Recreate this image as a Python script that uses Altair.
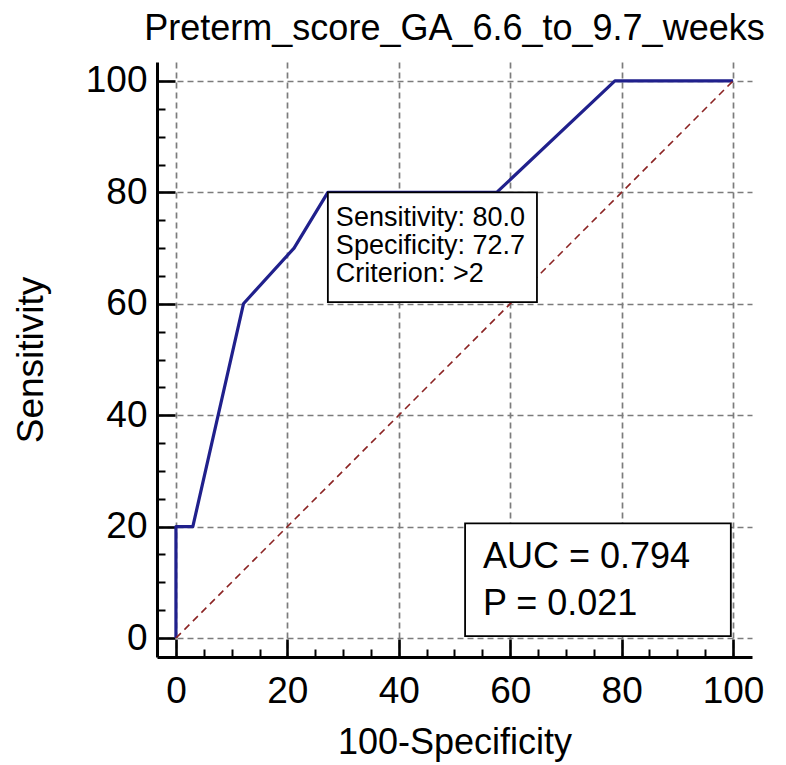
import altair as alt
import pandas as pd

# ---- data ----
fpr = [0, 0, 3.03, 12.12, 21.2, 27.27, 57.58, 78.79, 100]
tpr = [0, 20, 20, 60, 70, 80, 80, 100, 100]
diag_x = [0, 100]
diag_y = [0, 100]
major_ticks = [0, 20, 40, 60, 80, 100]
all_ticks = [0, 5, 10, 15, 20, 25, 30, 35, 40, 45, 50, 55, 60, 65, 70, 75, 80, 85, 90, 95, 100]
cut_fpr, cut_sens = 27.27, 80.0
cut_lines = ["Sensitivity: 80.0", "Specificity: 72.7", "Criterion: >2"]
auc_lines = ["AUC = 0.794", "P = 0.021"]
chart_title = "Preterm_score_GA_6.6_to_9.7_weeks"

# ---- annotation geometry (data units) ----
box1 = {"x": cut_fpr, "x2": 64.8, "y": cut_sens, "y2": 60.3}
box2 = {"x": 51.9, "x2": 99.6, "y": 20.6, "y2": 0.36}
auc_pos = {"x": 55.1, "y": 12.6}

W = H = 595
FONT = "Liberation Sans"
dom = [-3.4, 103.4]
xs = alt.Scale(domain=dom, nice=False, zero=False)
ys = alt.Scale(domain=dom, nice=False, zero=False)

roc_df = pd.DataFrame({"fpr": fpr, "tpr": tpr})
diag_df = pd.DataFrame({"fpr": diag_x, "tpr": diag_y})
box_df = pd.DataFrame([box1, box2])
cut_df = pd.DataFrame({"x": [cut_fpr], "y": [cut_sens], "t": [cut_lines]})
auc_df = pd.DataFrame({"x": [auc_pos["x"]], "y": [auc_pos["y"]], "t": [auc_lines]})

GRID = dict(grid=True, gridColor="#7c7c7c", gridDash=[6, 4], gridWidth=1.7)

main_x_axis = alt.Axis(
    values=major_ticks, title="100-Specificity", ticks=False, tickSize=0,
    labelFontSize=37, labelFont=FONT, labelColor="black", labelPadding=16,
    titleFontSize=36, titleFont=FONT, titleFontWeight="normal", titleColor="black",
    titleY=96, titleBaseline="alphabetic",
    domainColor="black", domainWidth=3, **GRID,
)
main_y_axis = alt.Axis(
    values=major_ticks, title="Sensitivity", ticks=False, tickSize=0,
    labelFontSize=37, labelFont=FONT, labelColor="black", labelPadding=10,
    titleFontSize=37, titleFont=FONT, titleFontWeight="normal", titleColor="black",
    titleX=-115, titleBaseline="alphabetic",
    domainColor="black", domainWidth=3, **GRID,
)
tick_size = {"condition": {"test": "datum.value % 20 === 0", "value": 18}, "value": 8}
tick_width = {"condition": {"test": "datum.value % 20 === 0", "value": 2.6}, "value": 2}
tick_x_axis = alt.Axis(
    values=all_ticks, orient="top", offset=-H, labels=False, domain=False,
    grid=False, title=None, tickColor="black", tickSize=tick_size, tickWidth=tick_width,
)
tick_y_axis = alt.Axis(
    values=all_ticks, orient="right", offset=-W, labels=False, domain=False,
    grid=False, title=None, tickColor="black", tickSize=tick_size, tickWidth=tick_width,
)

diag = alt.Chart(diag_df).mark_line(
    color="#8b2323", strokeDash=[7, 5], strokeWidth=1.6, clip=True
).encode(
    x=alt.X("fpr:Q", scale=xs, axis=tick_x_axis),
    y=alt.Y("tpr:Q", scale=ys, axis=tick_y_axis),
)

roc = alt.Chart(roc_df).mark_line(
    color="#20208c", strokeWidth=3.2, strokeJoin="round"
).encode(
    x=alt.X("fpr:Q", scale=xs, axis=main_x_axis),
    y=alt.Y("tpr:Q", scale=ys, axis=main_y_axis),
    order=alt.Order("fpr:Q", sort="ascending"),
)

boxes = alt.Chart(box_df).mark_rect(
    fill="white", stroke="black", strokeWidth=1.8
).encode(
    x=alt.X("x:Q", scale=xs, axis=None),
    x2="x2:Q",
    y=alt.Y("y:Q", scale=ys, axis=None),
    y2="y2:Q",
)

cut_text = alt.Chart(cut_df).mark_text(
    align="left", baseline="alphabetic", dx=8, dy=34, fontSize=27,
    lineHeight=28, font=FONT, color="black",
).encode(
    x=alt.X("x:Q", scale=xs, axis=None),
    y=alt.Y("y:Q", scale=ys, axis=None),
    text="t",
)

auc_text = alt.Chart(auc_df).mark_text(
    align="left", baseline="alphabetic", fontSize=36,
    lineHeight=47, font=FONT, color="black",
).encode(
    x=alt.X("x:Q", scale=xs, axis=None),
    y=alt.Y("y:Q", scale=ys, axis=None),
    text="t",
)

chart = alt.layer(roc, diag, boxes, cut_text, auc_text).resolve_axis(
    x="independent", y="independent"
).properties(
    width=W, height=H,
    title=alt.TitleParams(
        chart_title, fontSize=36, font=FONT, fontWeight="normal", color="black",
        anchor="middle", offset=22, baseline="alphabetic", dy=36,
    ),
    autosize=alt.AutoSizeParams(type="none"),
    padding={"left": 149, "top": 54, "right": 26, "bottom": 106},
).configure_view(stroke=None)

chart.save("out.html", embed_options={"renderer": "svg", "actions": False})
